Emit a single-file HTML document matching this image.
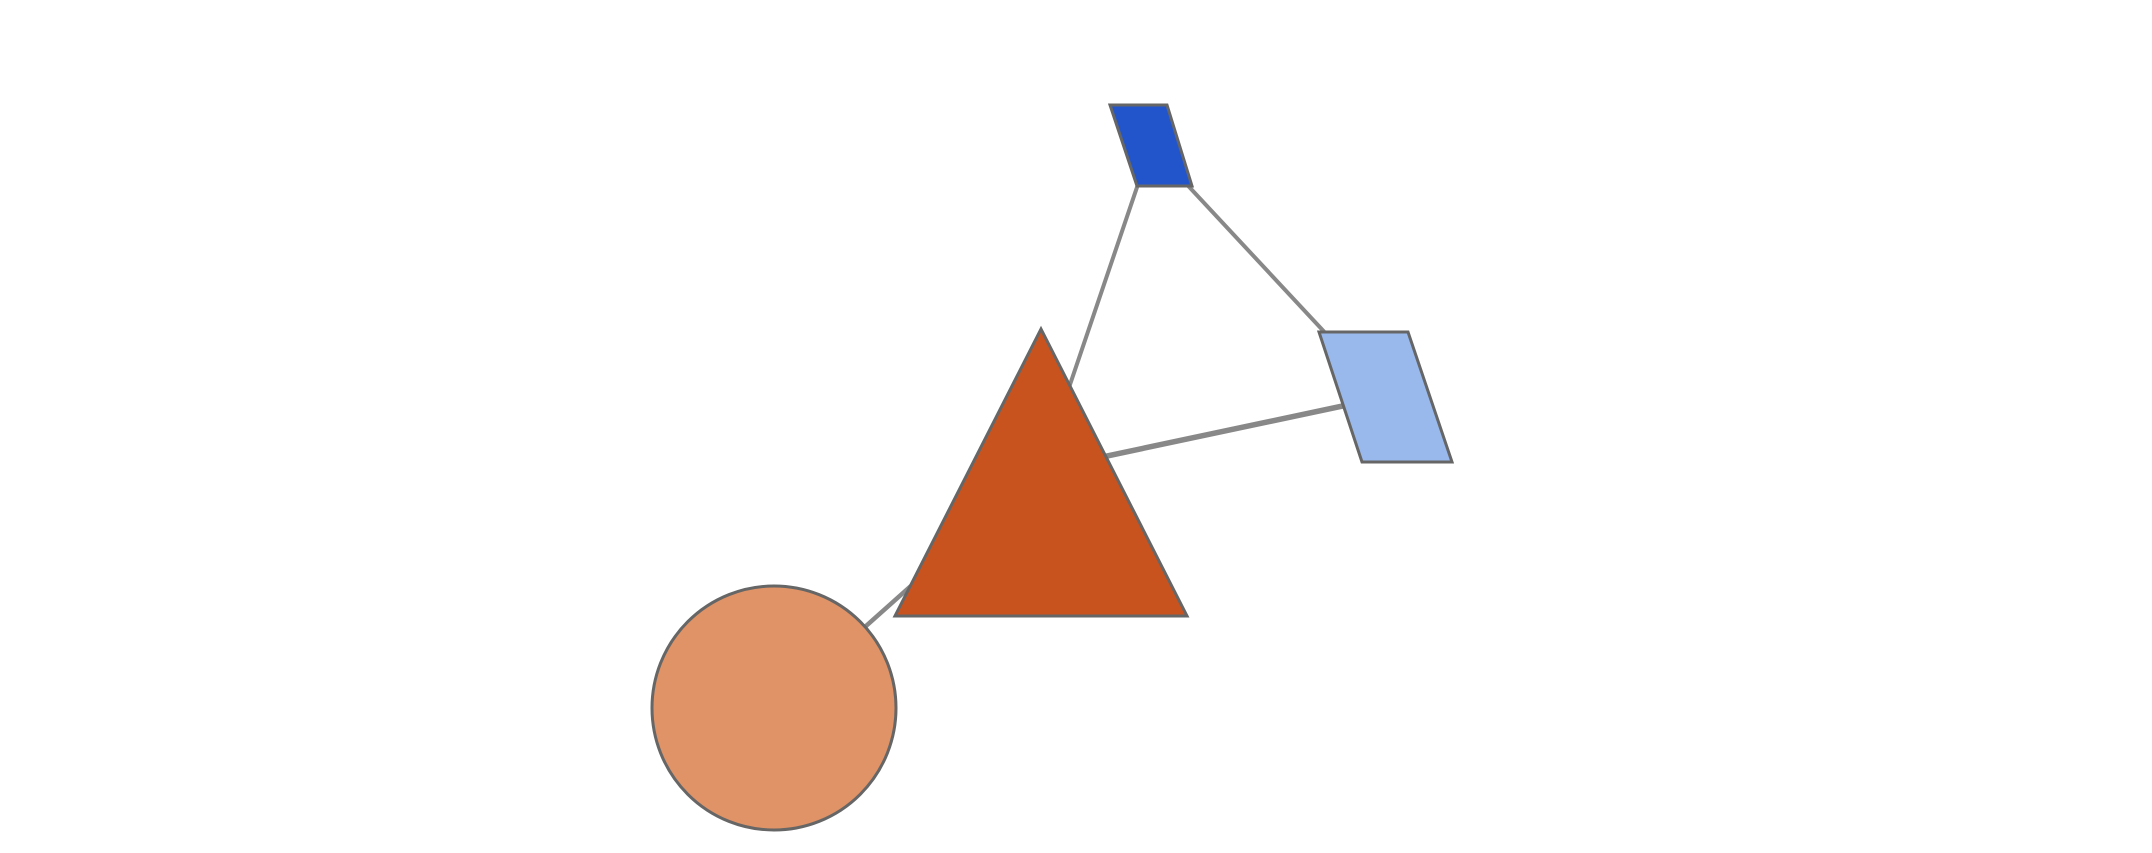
<!DOCTYPE html>
<html><head><meta charset="utf-8"><style>html,body{margin:0;padding:0;background:#fff;}svg{display:block;}</style></head>
<body>
<svg id="chart" width="2152" height="853" viewBox="0 0 2152 853" xmlns="http://www.w3.org/2000/svg">
<g id="edges"></g>
<g id="nodes"></g>
</svg>
<script>
const nodeNames = ['circle-node', 'triangle-node', 'dark-blue-node', 'light-blue-node'];
const nodeX = [774, 1041, 1151, 1385];
const nodeY = [708, 470, 146, 397];
const edgeFrom = [0, 1, 1, 2];
const edgeTo = [1, 2, 3, 3];
const edgeWidth = [4.5, 4, 5.5, 4];
const NS = 'http://www.w3.org/2000/svg';
const eg = document.getElementById('edges'), ng = document.getElementById('nodes');
for (let i = 0; i < edgeFrom.length; i++) {
  const l = document.createElementNS(NS, 'line');
  l.setAttribute('x1', nodeX[edgeFrom[i]]); l.setAttribute('y1', nodeY[edgeFrom[i]]);
  l.setAttribute('x2', nodeX[edgeTo[i]]); l.setAttribute('y2', nodeY[edgeTo[i]]);
  l.setAttribute('stroke', '#888'); l.setAttribute('stroke-width', edgeWidth[i]);
  
  
  eg.appendChild(l);
}
function add(el, name) {
  el.setAttribute('stroke', '#666'); el.setAttribute('stroke-width', '3');
  
  
  ng.appendChild(el);
}
let c = document.createElementNS(NS, 'circle');
c.setAttribute('cx', nodeX[0]); c.setAttribute('cy', nodeY[0]); c.setAttribute('r', 122);
c.setAttribute('fill', '#e09366');
add(c, nodeNames[0]);
let t = document.createElementNS(NS, 'polygon');
{ const x = nodeX[1], y = nodeY[1];
  t.setAttribute('points', `${x},${y-141} ${x+146},${y+146} ${x-146},${y+146}`); }
t.setAttribute('fill', '#c9531f');
add(t, nodeNames[1]);
let d = document.createElementNS(NS, 'polygon');
{ const x = nodeX[2], y = nodeY[2];
  d.setAttribute('points', `${x-41},${y-41} ${x+16},${y-41} ${x+41},${y+40} ${x-14},${y+40}`); }
d.setAttribute('fill', '#2255cc');
add(d, nodeNames[2]);
let b = document.createElementNS(NS, 'polygon');
{ const x = nodeX[3], y = nodeY[3];
  b.setAttribute('points', `${x-66},${y-65} ${x+23},${y-65} ${x+67},${y+65} ${x-23},${y+65}`); }
b.setAttribute('fill', '#99b9ec');
add(b, nodeNames[3]);
</script>
</body></html>
